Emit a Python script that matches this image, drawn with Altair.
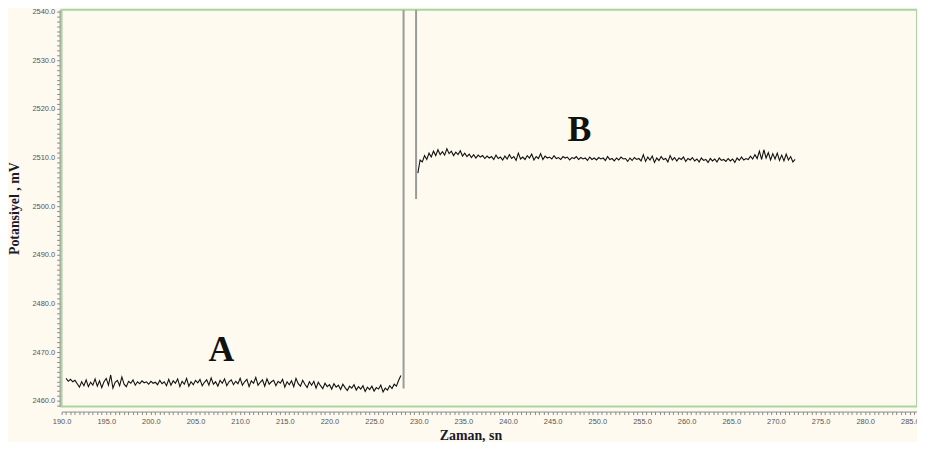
import altair as alt
import pandas as pd

# ---- data ----
a_start, a_step = 190.5, 0.25
a_vals = [
    2464.6, 2464.0, 2464.4, 2463.9, 2464.2, 2463.5, 2462.8, 2463.9, 2463.1, 2464.3,
    2462.9, 2463.8, 2463.2, 2464.5, 2463.0, 2464.1, 2462.7, 2463.9, 2464.6, 2463.2,
    2465.3, 2462.6, 2463.8, 2464.2, 2463.1, 2464.9, 2463.4, 2462.9, 2464.0, 2463.6,
    2464.3, 2463.2, 2463.9, 2463.5, 2464.1, 2463.7, 2463.9, 2463.4, 2464.0, 2463.6,
    2463.8, 2463.3, 2464.2, 2463.5, 2463.9, 2463.1, 2464.4, 2463.2, 2464.1, 2463.6,
    2464.5, 2462.9, 2464.0, 2463.4, 2464.6, 2463.0, 2463.9, 2463.3, 2464.2, 2463.7,
    2464.4, 2463.1, 2463.8, 2464.3, 2463.2, 2464.7, 2463.4, 2463.9, 2463.0, 2464.2,
    2463.6, 2464.5, 2463.1, 2463.9, 2464.3, 2463.3, 2464.0, 2463.5, 2464.6, 2463.2,
    2463.9, 2464.4, 2462.9, 2464.1, 2463.6, 2464.8, 2463.2, 2463.8, 2464.3, 2463.0,
    2464.5, 2463.4, 2463.9, 2464.2, 2463.1, 2464.0, 2463.6, 2464.4, 2462.8, 2463.9,
    2463.3, 2464.1, 2462.9, 2464.6, 2463.5, 2463.0, 2464.2, 2463.4, 2462.7, 2463.9,
    2463.2, 2464.0, 2462.6, 2463.8, 2463.1, 2462.5, 2463.6, 2462.9, 2463.3, 2462.4,
    2463.5, 2462.8, 2463.2, 2462.3, 2463.4, 2462.7, 2462.1, 2463.0, 2462.6, 2463.3,
    2462.2, 2462.9, 2462.4, 2463.1, 2461.9, 2462.8, 2462.3, 2463.0, 2462.0, 2462.7,
    2462.4, 2463.2, 2461.8, 2462.6, 2462.2, 2463.1, 2462.5, 2463.4, 2463.0, 2464.2, 2465.2,
]

b_start, b_step = 229.9, 0.25
b_vals = [
    2506.8, 2509.5, 2509.1, 2510.4, 2509.6, 2510.9, 2510.1, 2511.3, 2510.4, 2511.6,
    2510.6, 2511.2, 2510.5, 2511.8, 2510.8, 2511.3, 2510.4, 2511.1, 2510.6, 2511.4,
    2510.3, 2510.9, 2510.2, 2510.7, 2510.0, 2510.6, 2509.9, 2510.5, 2510.1, 2510.4,
    2509.8, 2510.3, 2509.9, 2510.2, 2509.6, 2510.5, 2509.8, 2510.1, 2509.5, 2510.3,
    2509.7, 2510.6, 2509.8, 2510.2, 2509.4, 2510.9, 2509.7, 2510.1, 2509.6, 2510.4,
    2509.9, 2510.7, 2509.5, 2510.2, 2509.8, 2510.8, 2509.6, 2510.3, 2509.9, 2510.1,
    2509.7, 2510.4, 2509.8, 2510.0, 2509.6, 2510.2, 2509.9, 2510.1, 2509.5, 2510.0,
    2509.8, 2510.2, 2509.6, 2510.0, 2509.7, 2509.9, 2509.4, 2510.1, 2509.6, 2509.9,
    2509.5, 2510.0, 2509.7, 2509.9, 2509.4, 2510.2, 2509.6, 2509.8, 2509.3, 2509.9,
    2509.5, 2510.1, 2509.7, 2509.8, 2509.2, 2509.9, 2509.4, 2510.0, 2509.6, 2509.8,
    2509.3, 2510.6, 2509.2, 2510.1, 2509.5, 2510.3, 2509.0, 2509.9, 2509.4, 2510.2,
    2509.6, 2509.8, 2509.1, 2510.4, 2509.5, 2510.0, 2509.3, 2509.9, 2509.6, 2510.1,
    2509.2, 2509.8, 2509.5, 2510.0, 2509.3, 2509.7, 2509.1, 2509.9, 2509.4, 2509.6,
    2509.0, 2509.8, 2509.3, 2509.7, 2509.1, 2509.9, 2509.4, 2509.6, 2509.2, 2509.8,
    2509.3, 2509.7, 2509.0, 2509.9, 2509.4, 2510.1, 2509.5, 2509.8, 2509.6, 2510.3,
    2509.7, 2510.6, 2509.8, 2511.3, 2509.6, 2511.6, 2509.9, 2511.0, 2509.5, 2510.8,
    2509.7, 2510.9, 2509.4, 2510.5, 2509.3, 2510.7, 2509.5, 2510.2, 2509.1, 2509.6,
]

spike_x = [228.3, 229.7]
spike_lo = [2462.5, 2501.5]
spike_hi = [2540.4, 2540.4]

label_text = ["A", "B"]
label_x = [207.9, 248.0]
label_y = [2468.2, 2513.5]

x_domain = [190.0, 285.8]
y_domain = [2458.8, 2540.4]
x_tick_values = [190 + 0.5 * i for i in range(192)]
y_tick_values = [2459 + i for i in range(82)]

# ---- tables ----
trace = pd.DataFrame(
    {"t": [a_start + a_step * i for i in range(len(a_vals))], "v": a_vals, "seg": "A"}
)
trace = pd.concat(
    [trace,
     pd.DataFrame({"t": [b_start + b_step * i for i in range(len(b_vals))], "v": b_vals, "seg": "B"})],
    ignore_index=True,
)
spikes = pd.DataFrame({"t": spike_x, "lo": spike_lo, "hi": spike_hi})
labels = pd.DataFrame({"t": label_x, "v": label_y, "txt": label_text})

axis_font = "Liberation Sans"
x_axis = alt.Axis(
    values=x_tick_values,
    labelExpr="datum.value % 5 == 0 ? format(datum.value, '.1f') : ''",
    labelOverlap=False, labelFlush=False,
    labelFont=axis_font, labelFontSize=7.5, labelColor="#555555", labelPadding=3,
    tickSize=3, tickColor="#8a8a8a", domainColor="#8a8a8a", offset=5, grid=False,
    title="Zaman, sn", titleFont="Liberation Serif", titleFontSize=14, titleFontWeight="bold",
    titleColor="#1a1a2e", titleX=412, titleY=28, titleAlign="center", titleBaseline="alphabetic",
)
y_axis = alt.Axis(
    values=y_tick_values,
    labelExpr="datum.value % 10 == 0 ? format(datum.value, '.1f') : ''",
    labelOverlap=False, labelFlush=False,
    labelFont=axis_font, labelFontSize=7.5, labelColor="#555555", labelPadding=2,
    tickSize=3, tickColor="#8a8a8a", domainColor="#8a8a8a", offset=2, grid=False,
    title="Potansiyel , mV", titleFont="Liberation Serif", titleFontSize=14, titleFontWeight="bold",
    titleColor="#1a1a2e", titleX=-45, titleY=200, titleAlign="center", titleBaseline="middle",
    titleAngle=270,
)
xs = alt.Scale(domain=x_domain, nice=False, zero=False)
ys = alt.Scale(domain=y_domain, nice=False, zero=False)

line = alt.Chart(trace).mark_line(color="#111111", strokeWidth=1.1, clip=True).encode(
    x=alt.X("t:Q", scale=xs, axis=x_axis),
    y=alt.Y("v:Q", scale=ys, axis=y_axis),
    detail="seg:N",
)
rules = alt.Chart(spikes).mark_rule(color="#9a9a9a", strokeWidth=2, clip=True).encode(
    x=alt.X("t:Q", scale=xs, axis=x_axis),
    y=alt.Y("lo:Q", scale=ys, axis=y_axis),
    y2="hi:Q",
)
texts = alt.Chart(labels).mark_text(
    font="Liberation Serif", fontSize=36, fontWeight="bold", color="#111111",
    align="center", baseline="alphabetic",
).encode(
    x=alt.X("t:Q", scale=xs, axis=x_axis),
    y=alt.Y("v:Q", scale=ys, axis=y_axis),
    text="txt:N",
)

chart = (
    alt.layer(rules, line, texts)
    .properties(
        width=862, height=400,
        autosize=alt.AutoSizeParams(type="none"),
        padding={"left": 54, "top": 0, "right": 0, "bottom": 34},
        background="#FEFAF0",
    )
    .configure_view(stroke="#a9d6a0", strokeWidth=2, fill="#FEFAF0")
)

chart.save("out.html", embed_options={"renderer": "svg", "actions": False})
